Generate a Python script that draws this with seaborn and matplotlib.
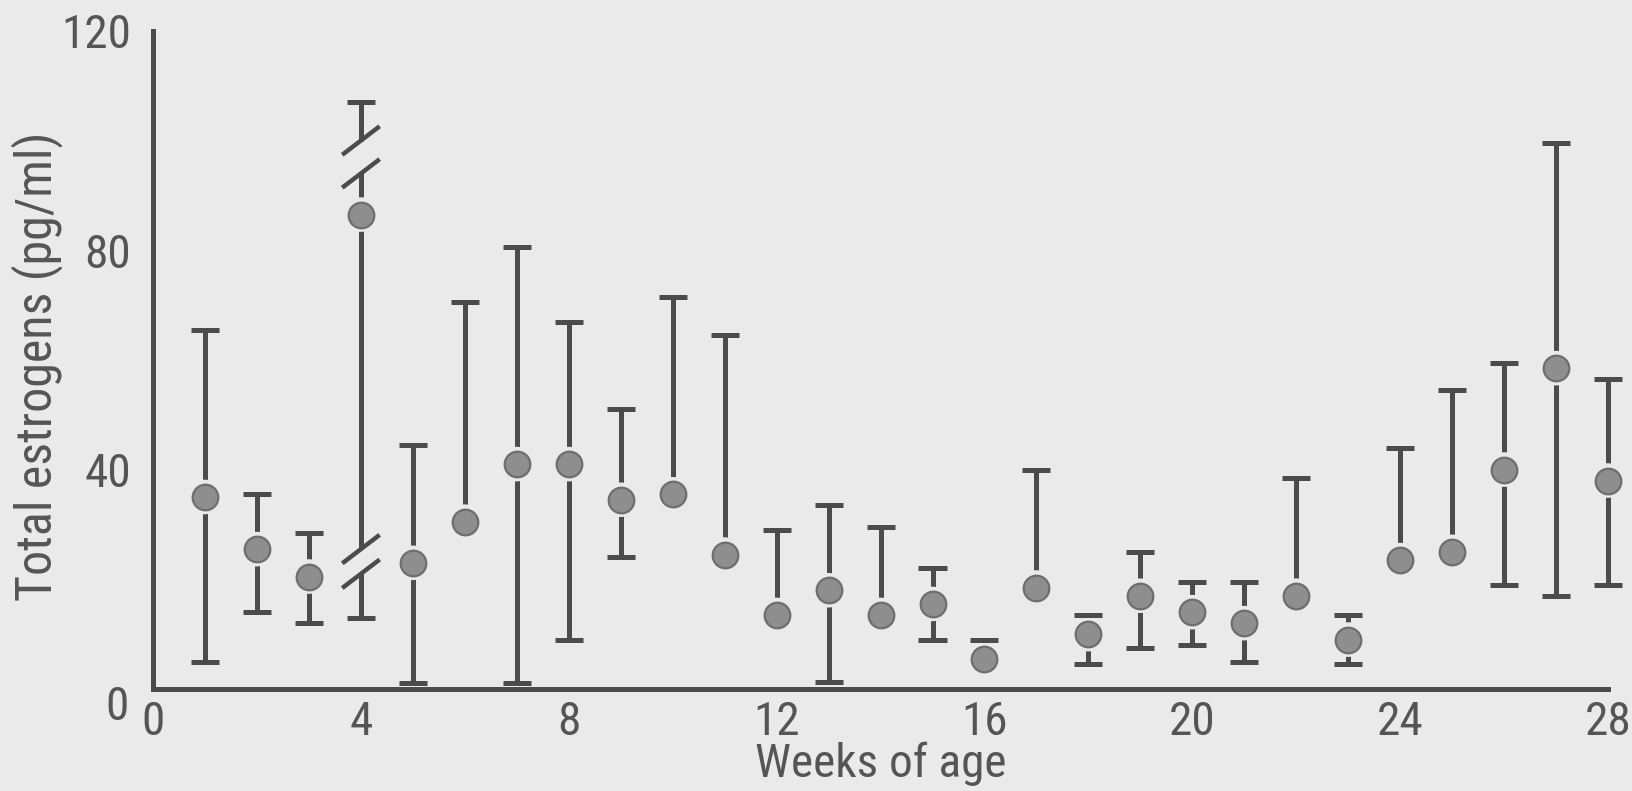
import numpy as np
import pandas as pd
import matplotlib
matplotlib.use("Agg")
import matplotlib.pyplot as plt
import matplotlib.transforms as mtransforms
from matplotlib import font_manager
import seaborn as sns

nan = np.nan

# Weekly total estrogen levels (pg/ml): mean with upper / lower range limits
weeks = list(range(1, 29))
mean = [35, 25.5, 20.5, 86.5, 23, 30.5, 41, 41, 34.5, 35.5, 24.5, 13.5, 18, 13.5,
        15.5, 5.5, 18.5, 10, 17, 14, 12, 17, 9, 23.5, 25, 40, 58.5, 38]
upper = [65.5, 35.5, 28.5, 107, 44.5, 70.5, 80.5, 67, 51, 71.5, 64.5, 29, 33.5, 29.5,
         22, 9, 40, 13.5, 25, 19.5, 19.5, 38.5, 13.5, 44, 54.5, 59.5, 99.5, 56.5]
lower = [5, 14, 12, 13, 1, nan, 1, 9, 24, nan, nan, nan, 1.3, nan,
         9, nan, nan, 4.5, 7.5, 8, 5, nan, 4.5, nan, nan, 19, 17, 19]

# Broken range at week 4 (scale break drawn on both arms)
break_week = 4
break_upper = (94, 100)
break_lower = (21, 25.5)

x_ticks = [0, 4, 8, 12, 16, 20, 24, 28]
x_minor = [2, 6, 10, 14, 18, 22, 26]
y_ticks = [0, 40, 80, 120]

df = pd.DataFrame({"week": weeks, "mean": mean, "upper": upper, "lower": lower})

BG = "#eaeaea"
INK = "#4b4b4b"
TXT = "#555555"
DOT = "#8e8e8e"

sns.set_theme(style="white", rc={"axes.facecolor": BG, "figure.facecolor": BG})

# prefer a narrow sans face if one is installed
names = sorted({f.name for f in font_manager.fontManager.ttflist})
narrow = [n for n in names if ("Narrow" in n or "Condensed" in n) and "Mono" not in n
          and "Serif" not in n]
preferred = ["Liberation Sans Narrow", "Roboto Condensed", "Open Sans Condensed",
             "DejaVu Sans Condensed", "Noto Sans Condensed"]
chosen = next((p for p in preferred if p in narrow), narrow[0] if narrow else None)
stretch = "normal"
if chosen is None:
    chosen = "Roboto"
    stretch = "condensed"
plt.rcParams["font.family"] = [chosen, "DejaVu Sans"]
plt.rcParams["font.stretch"] = stretch
is_narrow = chosen in narrow
FS = 34 if is_narrow else 30

fig = plt.figure(figsize=(16.32, 7.91), dpi=100)
ax = fig.add_axes([0.0938, 0.129, 0.8915, 0.832])
ax.set_xlim(0, 28)
ax.set_ylim(0, 120)

# vertical range bars
segs = []
for w, m, u, l in zip(df["week"], df["mean"], df["upper"], df["lower"]):
    if w == break_week:
        segs += [(w, m, break_upper[0]), (w, break_upper[1], u)]
        if not np.isnan(l):
            segs += [(w, l, break_lower[0]), (w, break_lower[1], m)]
    else:
        segs.append((w, m, u))
        if not np.isnan(l):
            segs.append((w, l, m))
ax.vlines([s[0] for s in segs], [s[1] for s in segs], [s[2] for s in segs],
          color=INK, linewidth=3.6, zorder=2, clip_on=False)

# caps
cap = 0.27
caps_x = list(df["week"]) + list(df.loc[df["lower"].notna(), "week"])
caps_y = list(df["upper"]) + list(df.loc[df["lower"].notna(), "lower"])
ax.hlines(caps_y, np.array(caps_x) - cap, np.array(caps_x) + cap, color=INK,
          linewidth=3.6, zorder=3.5, clip_on=False)

# break slashes
for yb in list(break_upper) + list(break_lower):
    ax.plot([break_week - 0.36, break_week + 0.36], [yb - 2.6, yb + 2.6],
            color=INK, linewidth=3.2, solid_capstyle="butt", zorder=2)

# halo so bars stop short of each point, then the points
sns.scatterplot(data=df, x="week", y="mean", s=620, color=BG, edgecolor="none",
                linewidth=0, zorder=3, ax=ax, clip_on=False, legend=False)
sns.scatterplot(data=df, x="week", y="mean", s=340, color=DOT, edgecolor="#6e6e6e",
                linewidth=1.6, zorder=4, ax=ax, clip_on=False, legend=False)

# axes styling
for side in ["top", "right"]:
    ax.spines[side].set_visible(False)
for side in ["left", "bottom"]:
    ax.spines[side].set_color(INK)
    ax.spines[side].set_linewidth(3.6)
    ax.spines[side].set_capstyle("projecting")

ax.set_xticks(x_ticks)
ax.set_xticks(x_minor, minor=True)
ax.set_yticks(y_ticks)
ax.tick_params(axis="x", which="both", direction="in", length=8, width=4.5,
               color=INK, labelsize=FS, labelcolor=TXT, pad=8)
ax.tick_params(axis="y", direction="in", length=10, width=3.6, color=INK,
               labelsize=FS, labelcolor=TXT, pad=16)
ax.set_xticklabels([str(t) for t in x_ticks])
ax.set_yticklabels([str(t) for t in y_ticks])
# the y-axis zero sits a little below the baseline
ylab0 = ax.get_yticklabels()[0]
ylab0.set_transform(ylab0.get_transform() +
                    mtransforms.ScaledTranslation(-0.02, -0.14, fig.dpi_scale_trans))

ax.set_xlabel("Weeks of age", fontsize=FS, color=TXT, labelpad=-2)
ax.set_ylabel("Total estrogens (pg/ml)", fontsize=FS + 2, color=TXT)
ax.yaxis.set_label_coords(-0.062, 0.49)

fig.savefig("out.png", dpi=100, facecolor=BG)
